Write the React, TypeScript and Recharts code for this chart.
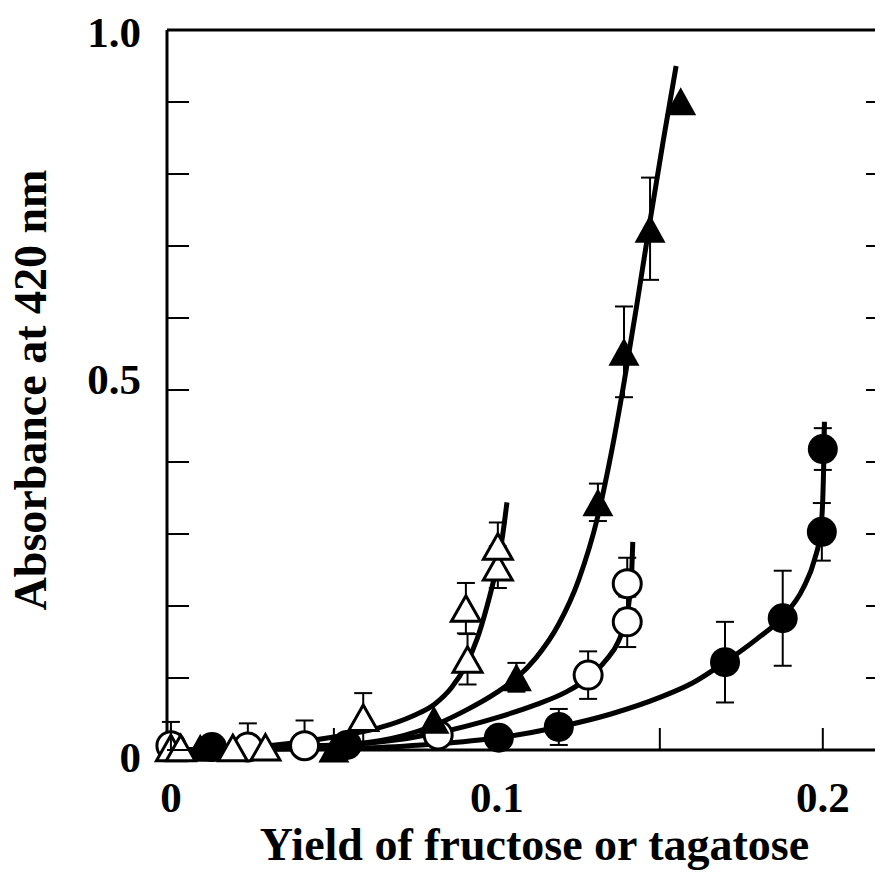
import {
  ComposedChart,
  Line,
  Scatter,
  ErrorBar,
  XAxis,
  YAxis,
} from 'recharts'

// measured points: x = yield, y = A420, e = error bar (single value or [down, up])
const openTriangles = [
  { x: 0.0, y: 0.003 },
  { x: 0.003, y: 0.003 },
  { x: 0.019, y: 0.003 },
  { x: 0.029, y: 0.004 },
  { x: 0.059, y: 0.045, e: 0.034 },
  { x: 0.091, y: 0.126, e: 0.035 },
  { x: 0.0905, y: 0.197, e: 0.035 },
  { x: 0.1003, y: 0.254, e: 0.029 },
  { x: 0.1003, y: 0.283, e: 0.033 },
]

const filledTriangles = [
  { x: 0.009, y: 0.003 },
  { x: 0.05, y: 0.002 },
  { x: 0.0807, y: 0.042 },
  { x: 0.106, y: 0.101, e: 0.02 },
  { x: 0.131, y: 0.344, e: 0.026 },
  { x: 0.139, y: 0.553, e: 0.063 },
  { x: 0.147, y: 0.724, e: 0.071 },
  { x: 0.1564, y: 0.901 },
]

const openCircles = [
  { x: 0.0, y: 0.006, e: [0, 0.033] },
  { x: 0.0236, y: 0.004, e: [0, 0.033] },
  { x: 0.041, y: 0.006, e: [0, 0.035] },
  { x: 0.082, y: 0.021 },
  { x: 0.128, y: 0.104, e: 0.033 },
  { x: 0.14, y: 0.178, e: 0.035 },
  { x: 0.14, y: 0.231, e: 0.036 },
]

const filledCircles = [
  { x: 0.0126, y: 0.004 },
  { x: 0.054, y: 0.007 },
  { x: 0.1006, y: 0.017 },
  { x: 0.119, y: 0.032, e: 0.025 },
  { x: 0.17, y: 0.122, e: 0.056 },
  { x: 0.1877, y: 0.183, e: 0.066 },
  { x: 0.1997, y: 0.303, e: 0.04 },
  { x: 0.2, y: 0.418, e: 0.029 },
]

// fitted curves
const openTriangleFit = [
  { x: 0, y: 0 },
  { x: 0.03, y: 0.006 },
  { x: 0.05, y: 0.018 },
  { x: 0.064, y: 0.031 },
  { x: 0.074, y: 0.047 },
  { x: 0.081, y: 0.064 },
  { x: 0.086, y: 0.086 },
  { x: 0.0905, y: 0.118 },
  { x: 0.094, y: 0.155 },
  { x: 0.097, y: 0.2 },
  { x: 0.0995, y: 0.245 },
  { x: 0.1015, y: 0.29 },
  { x: 0.1031, y: 0.344 },
]

const filledTriangleFit = [
  { x: 0, y: 0 },
  { x: 0.04, y: 0.004 },
  { x: 0.064, y: 0.013 },
  { x: 0.08, y: 0.033 },
  { x: 0.09, y: 0.054 },
  { x: 0.1, y: 0.08 },
  { x: 0.106, y: 0.1 },
  { x: 0.112, y: 0.128 },
  { x: 0.119, y: 0.175 },
  { x: 0.125, y: 0.235 },
  { x: 0.131, y: 0.325 },
  { x: 0.135, y: 0.41 },
  { x: 0.139, y: 0.51 },
  { x: 0.143, y: 0.62 },
  { x: 0.147, y: 0.735 },
  { x: 0.151, y: 0.845 },
  { x: 0.155, y: 0.95 },
]

const openCircleFit = [
  { x: 0, y: 0 },
  { x: 0.04, y: 0.005 },
  { x: 0.064, y: 0.011 },
  { x: 0.082, y: 0.024 },
  { x: 0.1, y: 0.045 },
  { x: 0.112, y: 0.063 },
  { x: 0.121, y: 0.08 },
  { x: 0.128, y: 0.1 },
  { x: 0.1335, y: 0.125 },
  { x: 0.1372, y: 0.15 },
  { x: 0.1395, y: 0.18 },
  { x: 0.1408, y: 0.215 },
  { x: 0.1414, y: 0.25 },
  { x: 0.1417, y: 0.289 },
]

const filledCircleFit = [
  { x: 0, y: 0 },
  { x: 0.06, y: 0.003 },
  { x: 0.08, y: 0.008 },
  { x: 0.1006, y: 0.017 },
  { x: 0.119, y: 0.032 },
  { x: 0.135, y: 0.05 },
  { x: 0.15, y: 0.073 },
  { x: 0.16, y: 0.093 },
  { x: 0.17, y: 0.122 },
  { x: 0.18, y: 0.155 },
  { x: 0.1877, y: 0.185 },
  { x: 0.194, y: 0.225 },
  { x: 0.1975, y: 0.265 },
  { x: 0.1993, y: 0.303 },
  { x: 0.2, y: 0.35 },
  { x: 0.2003, y: 0.4 },
  { x: 0.2005, y: 0.456 },
]

const xTicks = [0, 0.05, 0.1, 0.15, 0.2]
const xTickLabels: Record<number, string> = { 0: '0', 0.1: '0.1', 0.2: '0.2' }
const yTicks = [0, 0.1, 0.2, 0.3, 0.4, 0.5, 0.6, 0.7, 0.8, 0.9, 1.0]
const yTickLabels: Record<number, string> = { 0: '0', 0.5: '0.5', 1: '1.0' }

const xDomain = [-0.0012, 0.22]
const yDomain = [0, 1]

const TICK = 22
const font = '"Liberation Serif", "Times New Roman", serif'
const labelStyle = { fontFamily: font, fontWeight: 700, fontSize: 43, fill: '#000' }
const axisLine = { stroke: '#000', strokeWidth: 3 }

// baseline nudges for the y labels
const yLabelDy: Record<number, number> = { 0: 22, 0.5: 4, 1: 17 }

const BottomTick = ({ x, y, payload }: any) => (
  <g>
    <line x1={x} y1={y} x2={x} y2={y - TICK} stroke="#000" strokeWidth={2} />
    {xTickLabels[payload.value] !== undefined && (
      <text x={x} y={y + 62} textAnchor="middle" style={labelStyle}>
        {xTickLabels[payload.value]}
      </text>
    )}
  </g>
)

const TopTick = ({ x, y }: any) => (
  <line x1={x} y1={y} x2={x} y2={y + TICK} stroke="#000" strokeWidth={2} />
)

const LeftTick = ({ x, y, payload }: any) => (
  <g>
    <line x1={x} y1={y} x2={x + TICK} y2={y} stroke="#000" strokeWidth={2} />
    {yTickLabels[payload.value] !== undefined && (
      <text x={x - 26} y={y + yLabelDy[payload.value]} textAnchor="end" style={labelStyle}>
        {yTickLabels[payload.value]}
      </text>
    )}
  </g>
)

const RightTick = ({ x, y }: any) => (
  <line x1={x} y1={y} x2={x - TICK} y2={y} stroke="#000" strokeWidth={2} />
)

const FilledCircle = ({ cx, cy }: any) => <circle cx={cx} cy={cy} r={15} fill="#000" />

const OpenCircle = ({ cx, cy }: any) => (
  <circle cx={cx} cy={cy} r={14} fill="#fff" stroke="#000" strokeWidth={3} />
)

const FilledTriangle = ({ cx, cy }: any) => (
  <path d={`M${cx},${cy - 14}L${cx + 15.5},${cy + 14}L${cx - 15.5},${cy + 14}Z`} fill="#000" />
)

const OpenTriangle = ({ cx, cy }: any) => (
  <path
    d={`M${cx},${cy - 12.5}L${cx + 14.5},${cy + 13}L${cx - 14.5},${cy + 13}Z`}
    fill="#fff"
    stroke="#000"
    strokeWidth={3}
  />
)

const fits = [openTriangleFit, filledTriangleFit, openCircleFit, filledCircleFit]
// drawn in this order: triangles sit on top of circles
const series = [
  { name: 'openCirc', data: openCircles, shape: OpenCircle },
  { name: 'filledCirc', data: filledCircles, shape: FilledCircle },
  { name: 'filledTri', data: filledTriangles, shape: FilledTriangle },
  { name: 'openTri', data: openTriangles, shape: OpenTriangle },
]

export default function App() {
  return (
    <div style={{ width: 875, height: 872, overflow: 'hidden' }}>
      <ComposedChart width={890} height={872} margin={{ top: 0, right: 0, bottom: 0, left: 0 }}>
        <XAxis
          dataKey="x"
          type="number"
          domain={xDomain}
          ticks={xTicks}
          interval={0}
          height={130}
          axisLine={axisLine}
          tickLine={false}
          tickSize={0}
          tickMargin={0}
          tick={<BottomTick />}
          label={{
            value: 'Yield of fructose or tagatose',
            position: 'insideBottom',
            offset: 20,
            dx: 7,
            style: { ...labelStyle, fontSize: 46 },
          }}
        />
        <XAxis
          xAxisId="top"
          orientation="top"
          type="number"
          domain={xDomain}
          ticks={xTicks}
          interval={0}
          height={22}
          axisLine={axisLine}
          tickLine={false}
          tickSize={0}
          tickMargin={0}
          tick={<TopTick />}
          allowDataOverflow
        />
        <YAxis
          dataKey="y"
          type="number"
          domain={yDomain}
          ticks={yTicks}
          interval={0}
          width={159}
          axisLine={axisLine}
          tickLine={false}
          tickSize={0}
          tickMargin={0}
          tick={<LeftTick />}
          label={{
            value: 'Absorbance at 420 nm',
            angle: -90,
            position: 'insideLeft',
            offset: 22,
            style: { ...labelStyle, fontSize: 46, textAnchor: 'middle' },
          }}
        />
        <YAxis
          yAxisId="right"
          orientation="right"
          type="number"
          domain={yDomain}
          ticks={yTicks}
          interval={0}
          width={10}
          axisLine={axisLine}
          tickLine={false}
          tickSize={0}
          tickMargin={0}
          tick={<RightTick />}
          allowDataOverflow
        />
        {fits.map((d, i) => (
          <Line
            key={`fit-${i}`}
            data={d}
            dataKey="y"
            type="monotone"
            stroke="#000"
            strokeWidth={5}
            dot={false}
            activeDot={false}
            isAnimationActive={false}
          />
        ))}
        {series.map((s) => (
          <Scatter
            key={s.name}
            data={s.data}
            dataKey="y"
            shape={s.shape}
            isAnimationActive={false}
          >
            <ErrorBar dataKey="e" direction="y" width={9} stroke="#000" strokeWidth={2} />
          </Scatter>
        ))}
      </ComposedChart>
    </div>
  )
}
